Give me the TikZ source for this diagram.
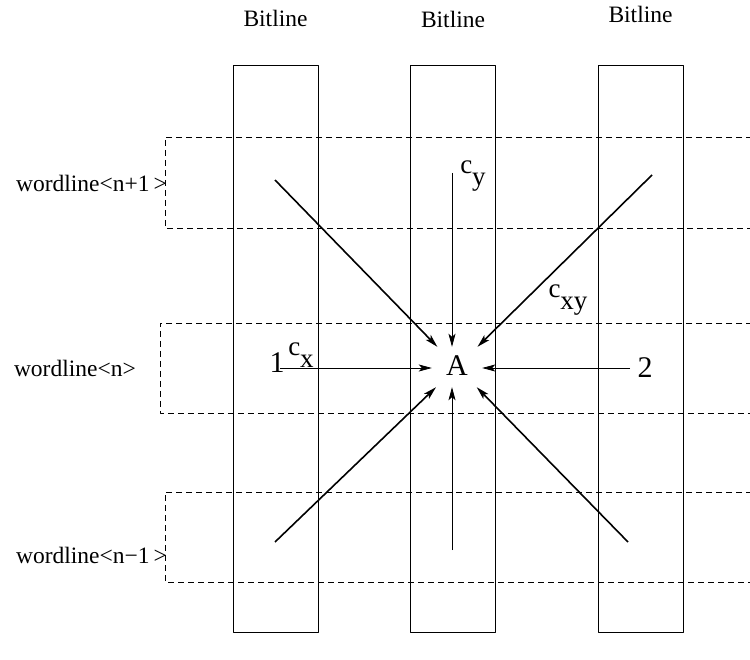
\documentclass[tikz,border=0pt]{standalone}
\usepackage{fontspec}
\setmainfont{Liberation Serif}
\usetikzlibrary{arrows.meta}

\newcommand{\csub}[1]{c\raisebox{-12pt}{#1}}

\tikzset{
  bitline/.style={draw, line width=0.8pt, minimum width=85pt, minimum height=567pt, inner sep=0pt},
  lbl/.style={font=\fontsize{23.5}{26}\selectfont, inner sep=0pt},
  big/.style={font=\fontsize{30}{34}\selectfont, inner sep=0pt},
  coeff/.style={font=\fontsize{27}{30}\selectfont, inner sep=0pt},
  wl/.style={dash pattern=on 6pt off 4pt, line width=0.8pt},
  arr/.style={-{Stealth[length=13pt,width=7pt,inset=3pt]}, line width=0.8pt},
  thickarr/.style={arr, line width=1.6pt},
}

\begin{document}
\begin{tikzpicture}[x=1pt, y=-1pt, line join=round]
  \useasboundingbox (0,0) rectangle (750,660);

  % bitlines
  \foreach \k/\x/\y in {1/275.5/18, 2/453/19, 3/640.5/14} {
    \node[bitline] (bl\k) at (\x,348.5) {};
    \node[lbl] (blab\k) at (\x,\y) {Bitline};
  }

  % wordlines, open towards the right
  \foreach \k/\xl/\ya/\yb in {1/165/137/228, 2/160/323/413, 3/165/492/582}
    \draw[wl] (752,\ya) -- (\xl,\ya) -- (\xl,\yb) -- (752,\yb);
  \node[lbl, anchor=east] (wlab1) at (167,183) {wordline<n+1\,>};
  \node[lbl, anchor=east] (wlab2) at (136,368) {wordline<n>};
  \node[lbl, anchor=east] (wlab3) at (167,555) {wordline<n−1\,>};

  % cell under test
  \node[big, minimum width=50pt, minimum height=40pt] (A) at (457,367) {\raisebox{3pt}{A}};

  \coordinate (tl) at (275,180);
  \coordinate (tr) at (652,175);
  \coordinate (bl) at (275,542);
  \coordinate (br) at (628,542);
  \coordinate (top) at (452,173);
  \coordinate (bot) at (452,550);
  \coordinate (left) at (280,368);
  \coordinate (right) at (630,368);

  \node[big] (one) at (277,363) {1};
  \node[big] (two) at (645,368) {2};

  \foreach \c in {tl, tr, bl, br}
    \draw[thickarr] (\c) -- (A);
  \draw[arr] (top) -- (top |- A.north);
  \draw[arr] (bot) -- (bot |- A.south);
  \draw[arr] (left) -- (left -| A.west);
  \draw[arr] (right) -- (right -| A.east);

  \node[coeff] (cx) at (301,355) {\csub{x}};
  \node[coeff] (cy) at (473,176) {\csub{y}};
  \node[coeff] (cxy) at (568,300) {\csub{xy}};
\end{tikzpicture}
\end{document}
